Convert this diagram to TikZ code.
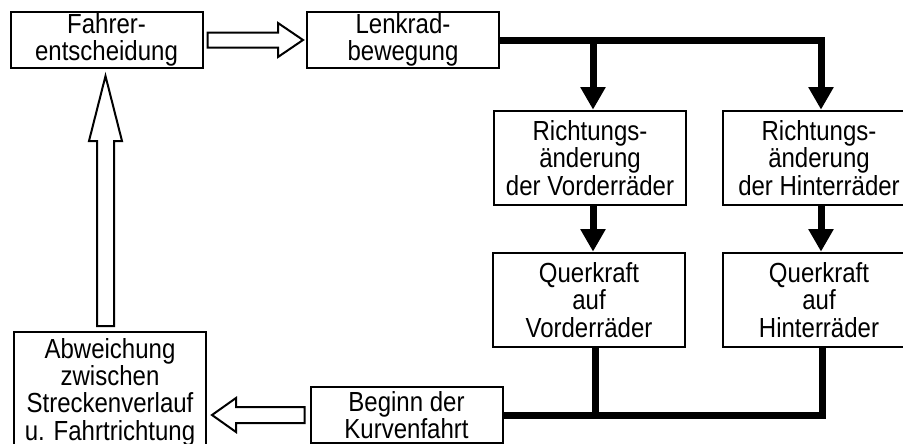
\documentclass[tikz,border=0pt]{standalone}
\usepackage{fontspec}
\setmainfont{Liberation Sans}[FakeStretch=0.87]
\usetikzlibrary{arrows.meta,calc}

\tikzset{
  box/.style={draw, line width=1.5pt, minimum width=144pt, minimum height=42pt,
    align=center, inner sep=0pt, font=\fontsize{20.7}{20.5}\selectfont},
  tallbox/.style={box, minimum height=71pt},
  bus/.style={line width=5.25pt, line join=miter},
  busarrow/.style={bus, -{Triangle[width=18pt,length=17pt]}},
  hollow/.style={draw, fill=white, line width=1.5pt, line join=miter}
}

\begin{document}
\begin{tikzpicture}[x=0.75pt,y=0.75pt,yscale=-1,xscale=1]
    \useasboundingbox (0,0) rectangle (903,443);
    \clip (0,0) rectangle (903,443);

    % Boxes
    \node[box] (fahrer) at (106.5,40) {Fahrer-\\entscheidung};
    \node[box] (lenkrad) at (403,40) {Lenkrad-\\bewegung};
    \node[tallbox] (richtV) at (590,158) {Richtungs-\\änderung\\der Vorderräder};
    \node[tallbox] (richtH) at (819,158) {Richtungs-\\änderung\\der Hinterräder};
    \node[tallbox] (querV) at (589,300) {Querkraft\\auf\\Vorderräder};
    \node[tallbox] (querH) at (819,300) {Querkraft\\auf\\Hinterräder};
    \node[box, minimum height=90pt] (abw) at (110,392) {Abweichung\\zwischen\\Streckenverlauf\\u. Fahrtrichtung};
    \node[box] (beginn) at (406.5,415) {Beginn der\\Kurvenfahrt};

    % Thick signal lines
    \draw[busarrow] (lenkrad.east) -| ($(richtV.north)+(3,0)$);
    \draw[busarrow] (lenkrad.east) -| ($(richtH.north)+(2,0)$);
    \draw[busarrow] ($(richtV.south)+(3,0)$) -- ($(querV.north)+(4,0)$);
    \draw[busarrow] ($(richtH.south)+(2,0)$) -- ($(querH.north)+(2,0)$);
    \draw[bus] (beginn.east) -| ($(querH.south)+(3,0)$);
    \draw[bus] ($(querV.south)+(6,0)$) -- ($(querV.south |- beginn.east)+(6,0)$);

    % Hollow arrows
    \coordinate (t1) at ($(fahrer.east)+(4,0)$);
    \coordinate (p1) at ($(lenkrad.west)+(-3,0)$);
    \draw[hollow] ($(t1)+(0,-7.5)$) -- ($(p1)+(-25,-7.5)$) -- ($(p1)+(-25,-17)$) -- (p1)
        -- ($(p1)+(-25,17)$) -- ($(p1)+(-25,7.5)$) -- ($(t1)+(0,7.5)$) -- cycle;

    \coordinate (t2) at ($(fahrer.south |- abw.north)+(-1,-5)$);
    \coordinate (p2) at ($(fahrer.south)+(-1,7)$);
    \draw[hollow] ($(t2)+(-8.5,0)$) -- ($(p2)+(-8.5,65)$) -- ($(p2)+(-16.5,65)$) -- (p2)
        -- ($(p2)+(16.5,65)$) -- ($(p2)+(8.5,65)$) -- ($(t2)+(8.5,0)$) -- cycle;

    \coordinate (t3) at ($(beginn.west)+(-5,0)$);
    \coordinate (p3) at ($(abw.east |- beginn.west)+(5,0)$);
    \draw[hollow] ($(t3)+(0,-8)$) -- ($(p3)+(24,-8)$) -- ($(p3)+(24,-17)$) -- (p3)
        -- ($(p3)+(24,17)$) -- ($(p3)+(24,8)$) -- ($(t3)+(0,8)$) -- cycle;

\end{tikzpicture}
\end{document}
